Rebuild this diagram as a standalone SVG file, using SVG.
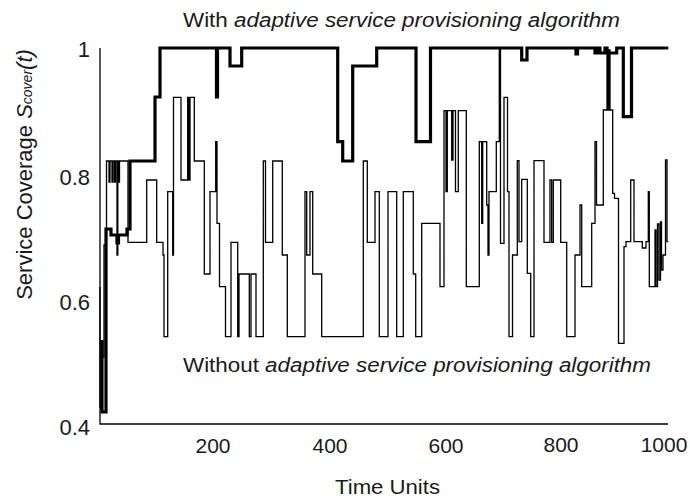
<svg xmlns="http://www.w3.org/2000/svg" width="690" height="500" viewBox="0 0 690 500">
<style>
text{font-family:"Liberation Sans",Arial,sans-serif;fill:#1a1a1a}
.yt{font-size:22px;text-anchor:end}
.xt{font-size:21px;text-anchor:middle}
.thin{fill:none;stroke:#000;stroke-width:1.3;stroke-linejoin:miter}
.thick{fill:none;stroke:#000;stroke-width:3.2;stroke-linejoin:miter}
.axis{fill:none;stroke:#000;stroke-width:1.3}
</style>
<rect width="690" height="500" fill="#fff"/>
<g id="axes">
<path class="axis" d="M100,48 V424 H668"/>
</g>
<g id="y-ticks">
<text class="yt" x="90" y="57">1</text>
<text class="yt" x="90" y="184.5">0.8</text>
<text class="yt" x="90" y="310">0.6</text>
<text class="yt" x="90" y="435">0.4</text>
</g>
<g id="x-ticks">
<text class="xt" x="213" y="453">200</text>
<text class="xt" x="330" y="453">400</text>
<text class="xt" x="446" y="453">600</text>
<text class="xt" x="561" y="452">800</text>
<text class="xt" x="664" y="452">1000</text>
</g>
<g id="axis-titles">
<text x="387.5" y="494" font-size="20" text-anchor="middle" textLength="105" lengthAdjust="spacingAndGlyphs">Time Units</text>
<text transform="translate(31.5,174.5) rotate(-90)" font-size="22" text-anchor="middle">Service Coverage <tspan font-style="italic">S</tspan><tspan font-style="italic" font-size="14">cover</tspan><tspan font-style="italic">(t)</tspan></text>
</g>
<g id="series">
<path id="without" class="thin" d="M100,287 V407 H102 V357 H104 V245 H106.5 V161 H109 V182 H110 V161 H112 V182 H113 V161 H114.5 V182 H115.5 V161 H117 V255 H117.8 V161 H118.5 V182 H119.5 V161 H128 V242.3 H146.7 V180 H156.7 V242.3 H163 V255 H164 V336.7 H167.7 V191.7 H172.7 V255 H173.5 V97.3 H181 V180 H187.7 V97.3 H189 V180 H190 V97.3 H194.3 V161 H204.3 V274 H210 V191.7 H215.7 V141.7 H217 V223.3 H219.5 V286.7 H225.5 V336.7 H231 V242.3 H237.7 V336.7 H239 V274 H249.3 V336.7 H251 V274 H256 V336.7 H263.3 V161 H265.5 V242.3 H272.7 V161 H282.3 V255 H287.3 V336.7 H305 V191.7 H306.7 V255 H310 V191.7 H312.7 V274 H321.7 V336.7 H363.3 V161 H367.3 V242.3 H375 V191.7 H379.3 V336.7 H388 V191.7 H396.7 V336.7 H403.3 V191.7 H413.3 V274 H415.7 V336.7 H421.7 V223.3 H440 V286.7 H444 V110.7 H446 V191.7 H447.3 V110.7 H451.7 V160 H453 V110.7 H455.5 V191.7 H458.3 V110.7 H466.3 V286.7 H479.3 V141.7 H481.7 V223.3 H482.7 V141.7 H486.7 V205 H488 V255 H489 V191.7 H496.3 V141.7 H499.3 V48 H500.5 V243.3 H504 V97.3 H507.5 V191.7 H509 V336.7 H512.5 V255 H517.3 V160.7 H519 V241.7 H521.7 V179.3 H527.3 V273.3 H530.7 V336.7 H534 V160.7 H544 V242.3 H550 V180 H551.7 V242.3 H553.3 V180 H560.7 V242.3 H566.7 V336.7 H575 V255 H580 V205 H581.7 V286.7 H591.7 V223.3 H595 V141.7 H596.5 V205 H603.3 V110 H607 V50 H608 V110 H609 V50 H610 V110 H612.7 V193.3 H614.5 V198.3 H618.5 V343.3 H624 V246.7 H626 V241.7 H630.7 V180 H634 V241.7 H642.3 V248 H646 V241.7 H648.3 V191.7 H649.3 V286.7 H655 V230 H656 V286.7 H657.5 V224 H659 V280 H660.5 V222 H661.5 V270 H663 V255 H665.5 V160 H667 V241.7 H668.3"/>
<path id="with" class="thick" d="M102,340 V412 H106 V229 H111 V235 H117 V243 H118.5 V235 H127 V229 H130 V161 H155 V97 H160 V48 H216.5 V97 H217.5 V48 H230 V66 H241.7 V48 H337.7 V141.7 H342.7 V161 H352.7 V66 H376.7 V48 H416 V141.7 H430.5 V48 H521.7 V60 H527 V48 H576 V54 H577.5 V48 H595 V53 H598 V48 H600 V53 H605 V48 H607 V53 H616.7 V48 H623.3 V116.7 H631.5 V48 H668.3"/>
</g>
<g id="annotations">
<text x="183" y="26.5" font-size="20" textLength="437" lengthAdjust="spacingAndGlyphs">With <tspan font-style="italic">adaptive service provisioning algorithm</tspan></text>
<text x="183" y="371.5" font-size="20" textLength="468" lengthAdjust="spacingAndGlyphs">Without <tspan font-style="italic">adaptive service provisioning algorithm</tspan></text>
</g>
</svg>
